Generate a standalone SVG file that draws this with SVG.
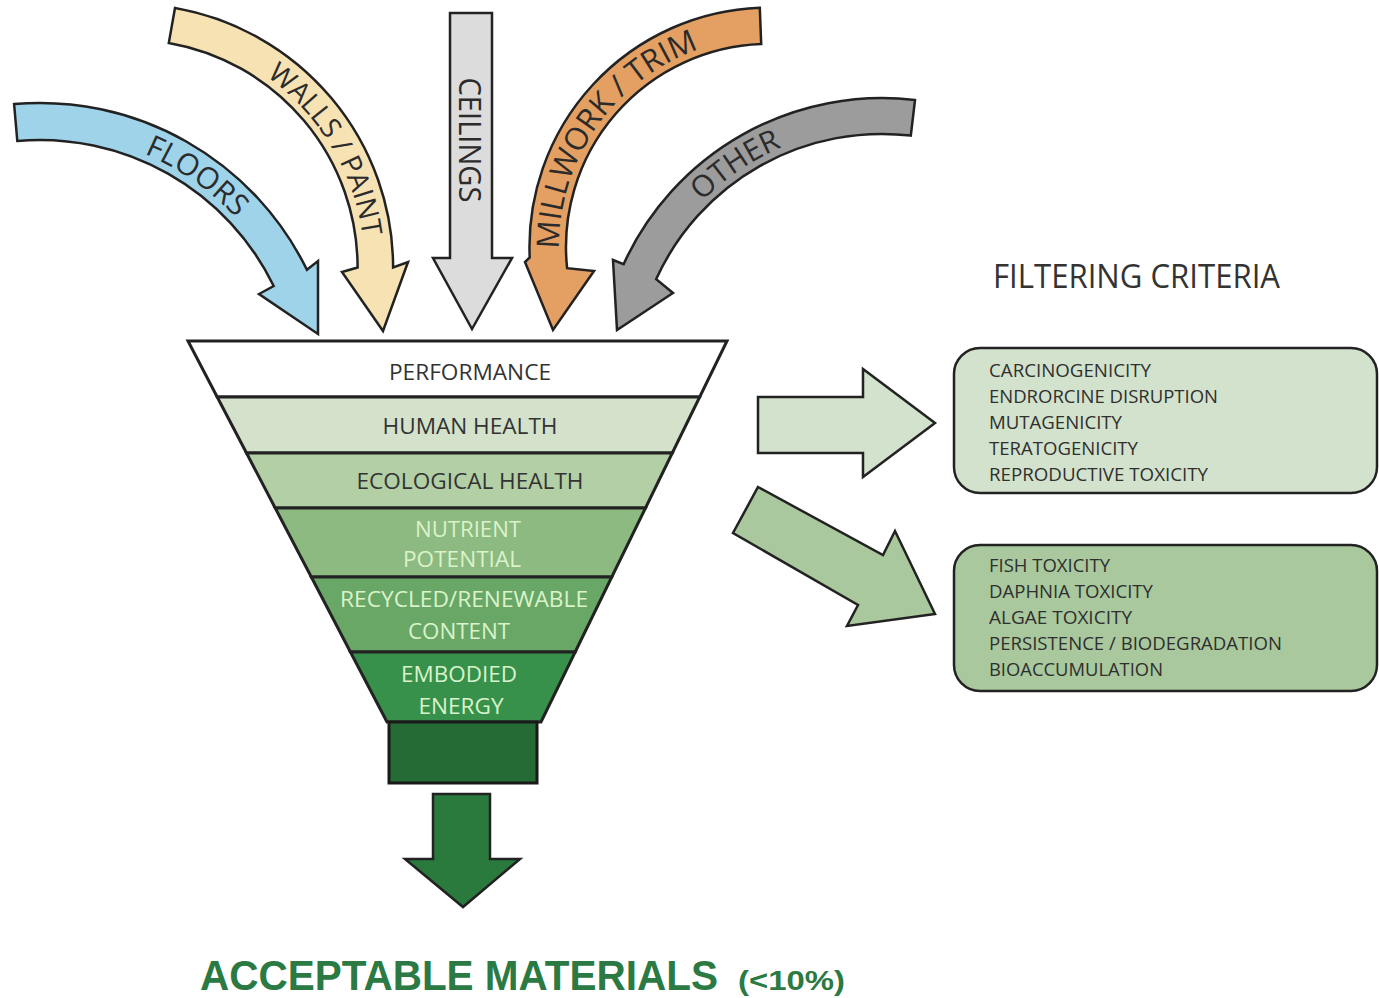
<svg xmlns="http://www.w3.org/2000/svg" width="1379" height="998" viewBox="0 0 1379 998">
<defs>
<style>
.ol{stroke:#222;stroke-width:2.5;stroke-linejoin:miter}
.lbl{font-family:"Open Sans","Liberation Sans",sans-serif;fill:#2b2b2b}
.in{font-family:"Open Sans","Liberation Sans",sans-serif;font-size:22px;text-anchor:middle}
.dk{fill:#333}
.lt{fill:#daf3cb}
.cr{font-family:"Open Sans","Liberation Sans",sans-serif;font-size:18px;fill:#2f2f2f}
.res{font-family:"Liberation Sans",Arial,sans-serif;font-weight:700;fill:#2b7a43}
</style>
<path id="tpFloors" d="M 131.5 148.6 A 267.5 267.5 0 0 1 244.9 228.1"/>
<path id="tpWalls" d="M 228.9 54.5 A 235 235 0 0 1 364.3 279.8"/>
<path id="tpMill" d="M 562.2 283.5 A 210 210 0 0 1 732.5 40.2"/>
<path id="tpOther" d="M 642.3 294.7 A 255 255 0 0 1 890.8 127.1"/>
</defs>
<rect width="1379" height="998" fill="#ffffff"/>

<g id="connectors">
<g id="arrow-floors">
<path class="ol" fill="#9ed3ea" d="M 14.1 104.1 A 297 297 0 0 1 306.9 269.8 L 318 261 L 318 334 L 259 294 L 273.7 286 A 260 260 0 0 0 17.3 141 Z"/>
<text class="lbl" font-size="30"><textPath href="#tpFloors" startOffset="50%" text-anchor="middle">FLOORS</textPath></text>
</g>
<g id="arrow-walls">
<path class="ol" fill="#f7e2b4" d="M 175 8 A 263.5 263.5 0 0 1 393.1 267.5 L 408 262 L 383 331 L 342 272 L 357.6 267.5 A 228 228 0 0 0 168.8 42.9 Z"/>
<text class="lbl" font-size="28"><textPath href="#tpWalls" startOffset="50%" text-anchor="middle">WALLS / PAINT</textPath></text>
</g>
<g id="arrow-ceilings">
<path class="ol" fill="#dcdcdc" d="M 450 13 L 492 13 L 492 258 L 512 258 L 472 329 L 433 258 L 450 258 Z"/>
<text class="lbl" font-size="31" text-anchor="middle" textLength="125" lengthAdjust="spacingAndGlyphs" transform="translate(459,140) rotate(90)">CEILINGS</text>
</g>
<g id="arrow-millwork">
<path class="ol" fill="#e3a062" d="M 759.8 7.7 A 239.5 239.5 0 0 0 529.7 257.4 L 525 262 L 553 330 L 594 271 L 567.1 268.2 A 203 203 0 0 1 761.2 44.1 Z"/>
<text class="lbl" font-size="31"><textPath href="#tpMill" startOffset="50%" text-anchor="middle">MILLWORK / TRIM</textPath></text>
</g>
<g id="arrow-other">
<path class="ol" fill="#9c9c9c" d="M 915 100 A 283.9 283.9 0 0 0 623.6 264.2 L 613 260 L 617 330 L 673 293 L 656.2 279.1 A 248 248 0 0 1 910.8 135.6 Z"/>
<text class="lbl" font-size="30"><textPath href="#tpOther" startOffset="50%" text-anchor="middle">OTHER</textPath></text>
</g>
<g id="arrow-human">
<path class="ol" fill="#d3e2cc" d="M 758 397 L 863 397 L 863 369 L 935 423 L 863 477 L 863 453 L 758 453 Z"/>
</g>
<g id="arrow-eco">
<path class="ol" fill="#a9c89d" d="M 758 487 L 883 555 L 895 531 L 935 614 L 847 626 L 858 605 L 733 533 Z"/>
</g>
<g id="arrow-out">
<path class="ol" fill="#2a7a3e" d="M 433 794 L 490 794 L 490 859 L 520 859 L 463 907 L 405 859 L 433 859 Z"/>
</g>
</g>

<g id="funnel">
<g id="band-performance">
<polygon fill="#ffffff" stroke="#222" stroke-width="3" points="188,341 727,341 699.7,397 217.2,397"/>
<text class="in dk" x="470" y="380" textLength="162" lengthAdjust="spacingAndGlyphs">PERFORMANCE</text>
</g>
<g id="band-human">
<polygon fill="#d4e2cc" stroke="#222" stroke-width="3" points="217.2,397 699.7,397 672.3,453 246.5,453"/>
<text class="in dk" x="470" y="434" textLength="175" lengthAdjust="spacingAndGlyphs">HUMAN HEALTH</text>
</g>
<g id="band-ecological">
<polygon fill="#b3cfa6" stroke="#222" stroke-width="3" points="246.5,453 672.3,453 645.5,508 275.2,508"/>
<text class="in dk" x="470" y="489" textLength="227" lengthAdjust="spacingAndGlyphs">ECOLOGICAL HEALTH</text>
</g>
<g id="band-nutrient">
<polygon fill="#8dba80" stroke="#222" stroke-width="3" points="275.2,508 645.5,508 611.8,577 311.3,577"/>
<text class="in lt" x="468" y="537" textLength="106" lengthAdjust="spacingAndGlyphs">NUTRIENT</text>
<text class="in lt" x="462" y="567" textLength="118" lengthAdjust="spacingAndGlyphs">POTENTIAL</text>
</g>
<g id="band-recycled">
<polygon fill="#69a767" stroke="#222" stroke-width="3" points="311.3,577 611.8,577 575.2,652 350.4,652"/>
<text class="in lt" x="464" y="607" textLength="248" lengthAdjust="spacingAndGlyphs">RECYCLED/RENEWABLE</text>
<text class="in lt" x="459" y="639" textLength="102" lengthAdjust="spacingAndGlyphs">CONTENT</text>
</g>
<g id="band-embodied">
<polygon fill="#37914b" stroke="#222" stroke-width="3" points="350.4,652 575.2,652 541,722 387,722"/>
<text class="in lt" x="459" y="682" textLength="116" lengthAdjust="spacingAndGlyphs">EMBODIED</text>
<text class="in lt" x="461" y="714" textLength="85" lengthAdjust="spacingAndGlyphs">ENERGY</text>
</g>
<g id="spout">
<rect x="389" y="722" width="148" height="61" fill="#256b35" stroke="#1a1a1a" stroke-width="3"/>
</g>
</g>

<g id="title">
<text x="993" y="288" font-family="Open Sans, Liberation Sans, sans-serif" font-size="32" fill="#333" textLength="287" lengthAdjust="spacingAndGlyphs">FILTERING CRITERIA</text>
</g>

<g id="box-human">
<rect x="954" y="348" width="423" height="145" rx="26" ry="26" fill="#d3e2cc" stroke="#222" stroke-width="2.5"/>
<text class="cr" x="989" y="377" textLength="162" lengthAdjust="spacingAndGlyphs">CARCINOGENICITY</text>
<text class="cr" x="989" y="403" textLength="229" lengthAdjust="spacingAndGlyphs">ENDRORCINE DISRUPTION</text>
<text class="cr" x="989" y="429" textLength="133" lengthAdjust="spacingAndGlyphs">MUTAGENICITY</text>
<text class="cr" x="989" y="455" textLength="149" lengthAdjust="spacingAndGlyphs">TERATOGENICITY</text>
<text class="cr" x="989" y="481" textLength="219" lengthAdjust="spacingAndGlyphs">REPRODUCTIVE TOXICITY</text>
</g>

<g id="box-eco">
<rect x="954" y="545" width="423" height="146" rx="26" ry="26" fill="#a9c89d" stroke="#222" stroke-width="2.5"/>
<text class="cr" x="989" y="572" textLength="121" lengthAdjust="spacingAndGlyphs">FISH TOXICITY</text>
<text class="cr" x="989" y="598" textLength="164" lengthAdjust="spacingAndGlyphs">DAPHNIA TOXICITY</text>
<text class="cr" x="989" y="624" textLength="143" lengthAdjust="spacingAndGlyphs">ALGAE TOXICITY</text>
<text class="cr" x="989" y="650" textLength="293" lengthAdjust="spacingAndGlyphs">PERSISTENCE / BIODEGRADATION</text>
<text class="cr" x="989" y="676" textLength="174" lengthAdjust="spacingAndGlyphs">BIOACCUMULATION</text>
</g>

<g id="result">
<text class="res" x="200" y="990" font-size="42" textLength="518" lengthAdjust="spacingAndGlyphs">ACCEPTABLE MATERIALS</text>
<text class="res" x="738" y="990" font-size="27" textLength="107" lengthAdjust="spacingAndGlyphs">(&lt;10%)</text>
</g>
</svg>
